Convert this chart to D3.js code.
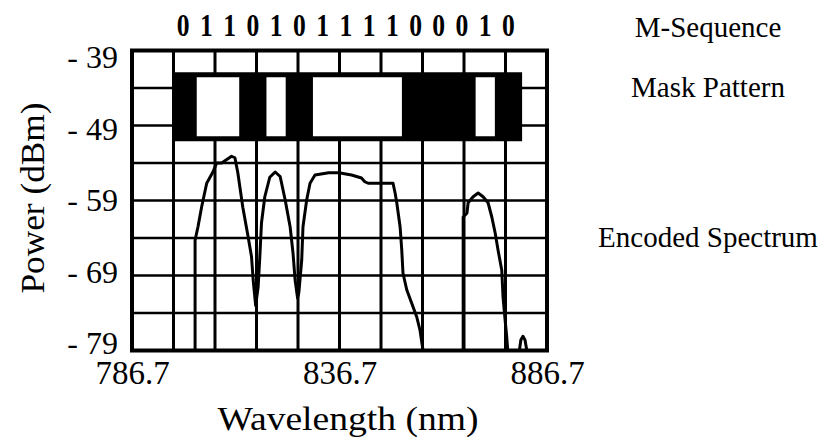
<!DOCTYPE html>
<meta charset="utf-8">
<style>
body{ margin:0; background-color:white; }
</style>
<body>
<svg class="chart"></svg>
<script src="https://cdn.jsdelivr.net/npm/d3@7"></script>
<script>
// m-sequence bits shown above the mask (1 = open slot)
var bits = [0,1,1,0,1,0,1,1,1,1,0,0,0,1,0];

// axis labels
var xTicks = [786.7, 836.7, 886.7];
var yTicks = [-39, -49, -59, -69, -79];

// encoded spectrum trace (nm / dBm)
var wavelength = [801.9, 801.9, 802.6, 803.5, 804.7, 806.2, 807.1, 808.3, 810.7, 811.5, 812.2, 813.4, 814.7, 815.5, 815.9, 816.5,
  817.1, 817.5, 817.9, 818.7, 819.9, 821.2, 822.4, 823.6, 824.8, 825.5, 826.0, 826.6,
  826.9, 827.6, 827.9, 828.8, 829.6, 830.8, 834.1, 836.5, 839.6, 842.0, 842.8, 843.6, 844.8, 849.6, 850.1, 850.5,
  851.3, 851.7, 852.0, 852.9, 854.1, 855.3, 856.1, 856.8, 857.5,
  866.3, 866.5, 866.5, 867.4, 867.7, 868.9, 870.1, 871.3, 872.5, 873.4, 874.2, 874.9, 875.8, 876.1, 876.6, 877.0, 877.3, 877.6,
  880.0, 880.4, 880.9, 881.4, 881.9];
var power = [-82, -64.3, -62.5, -59.8, -56.7, -55.2, -54.0, -54.0, -53.1, -53.3, -55.3, -59.9, -63.9, -66.5, -69.6, -73.0,
  -70.5, -66.5, -62.0, -58.5, -55.9, -55.2, -55.8, -58.9, -62.5, -66.0, -69.6, -72.0,
  -71.3, -66.9, -62.5, -58.9, -56.7, -55.6, -55.3, -55.3, -55.6, -56.0, -56.5, -56.7, -56.7, -56.7, -58.0, -59.3,
  -62.5, -65.6, -68.7, -70.9, -72.7, -74.5, -76.3, -78.9, -82,
  -82, -79.3, -61.2, -60.7, -59.3, -58.5, -58.0, -58.5, -59.3, -61.2, -63.3, -65.6, -68.3, -71.8, -74.9, -77.2, -79.5, -82,
  -79.2, -77.6, -77.1, -77.6, -79.2];

var labels = ["M-Sequence", "Mask Pattern", "Encoded Spectrum"];
</script>

<script>
var w = 830, h = 444;
var plotL = 132, plotR = 547, plotT = 50.5, plotB = 350.5;
var serif = '"Liberation Serif", "Times New Roman", serif';

var svg = d3.select('svg').attr('width', w).attr('height', h).attr('font-family', serif);
svg.append('rect').attr('width', w).attr('height', h).attr('fill', 'white');

var x = d3.scaleLinear().domain([786.7, 886.7]).range([plotL, plotR]);
var y = d3.scaleLinear().domain([-39, -79]).range([plotT, plotB]);
// the printed y labels sit a little inside the end lines
var yLab = d3.scaleLinear().domain([-39, -79]).range([57, 343]);

// mask spans 15 slots from 796.7 nm
var maskStart = 796.7, maskEnd = 880.7;
var slot = d3.scaleBand().domain(d3.range(bits.length)).range([x(maskStart), x(maskEnd)]);

// grid: 10 nm by 5 dB
var gridX = d3.range(1, 10).map(function (i) { return 786.7 + 10 * i; });
var gridY = d3.range(1, 8).map(function (i) { return -39 - 5 * i; });

svg.append('g').selectAll('line')
  .data(gridX).enter().append('line')
  .attr('x1', function (d) { return x(d); }).attr('x2', function (d) { return x(d); })
  .attr('y1', plotT).attr('y2', plotB)
  .attr('stroke', 'black').attr('stroke-width', 3);

svg.append('g').selectAll('line')
  .data(gridY).enter().append('line')
  .attr('x1', plotL).attr('x2', plotR)
  .attr('y1', function (d) { return y(d); }).attr('y2', function (d) { return y(d); })
  .attr('stroke', 'black').attr('stroke-width', 2.6);

// mask pattern: black bar with open runs of 1s
var maskTop = -41.9, maskBot = -51.1;
svg.append('rect')
  .attr('x', x(maskStart) - 1.5).attr('width', x(maskEnd) - x(maskStart) + 1.5)
  .attr('y', y(maskTop)).attr('height', y(maskBot) - y(maskTop))
  .attr('fill', 'black');

var runs = [];
bits.forEach(function (b, i) {
  if (b != 1) return;
  if (runs.length && runs[runs.length - 1].end == i - 1) runs[runs.length - 1].end = i;
  else runs.push({start: i, end: i});
});

svg.append('g').selectAll('rect')
  .data(runs).enter().append('rect')
  .attr('x', function (d) { return slot(d.start); })
  .attr('width', function (d) { return slot(d.end) + slot.bandwidth() - slot(d.start) - 4; })
  .attr('y', y(maskTop) + 5)
  .attr('height', y(maskBot) - y(maskTop) - 10)
  .attr('fill', 'white');

// spectrum
svg.append('clipPath').attr('id', 'plot')
  .append('rect').attr('x', plotL).attr('y', plotT).attr('width', plotR - plotL).attr('height', plotB - plotT);

var line = d3.line()
  .x(function (d) { return x(d[0]); })
  .y(function (d) { return y(d[1]); });

svg.append('path')
  .datum(d3.zip(wavelength, power))
  .attr('clip-path', 'url(#plot)')
  .attr('d', line)
  .attr('fill', 'none').attr('stroke', 'black').attr('stroke-width', 3)
  .attr('stroke-linejoin', 'round');

// frame
svg.append('rect')
  .attr('x', plotL).attr('y', plotT).attr('width', plotR - plotL).attr('height', plotB - plotT)
  .attr('fill', 'none').attr('stroke', 'black').attr('stroke-width', 4);

// bits above the mask
svg.append('g').selectAll('text')
  .data(bits).enter().append('text')
  .attr('transform', function (d, i) { return 'translate(' + (slot(i) + slot.bandwidth() / 2 - 2) + ',36) scale(0.8,1)'; })
  .attr('text-anchor', 'middle')
  .attr('font-family', serif)
  .attr('font-weight', 'bold')
  .attr('font-size', '32px')
  .text(function (d) { return d; });

// x axis labels
var xAxis = d3.axisBottom(x).tickValues(xTicks).tickSize(0).tickPadding(10)
  .tickFormat(function (d) { return d.toFixed(1); });
var gx = svg.append('g').attr('transform', 'translate(0,' + plotB + ')').call(xAxis);
gx.select('.domain').remove();
gx.attr('font-family', serif);
gx.selectAll('text').attr('font-family', serif).attr('font-size', '33px').attr('fill', 'black');

// y axis labels
svg.append('g').selectAll('text')
  .data(yTicks).enter().append('text')
  .attr('x', 118)
  .attr('y', function (d) { return yLab(d); })
  .attr('dy', '0.35em')
  .attr('text-anchor', 'end')
  .attr('font-family', serif)
  .attr('font-size', '32px')
  .text(function (d) { return '- ' + Math.abs(d); });

svg.append('text')
  .attr('transform', 'translate(44,198) rotate(-90)')
  .attr('text-anchor', 'middle')
  .attr('font-family', serif)
  .attr('font-size', '34px')
  .attr('textLength', 191).attr('lengthAdjust', 'spacingAndGlyphs')
  .text('Power (dBm)');

svg.append('text')
  .attr('x', 348).attr('y', 430)
  .attr('text-anchor', 'middle')
  .attr('font-family', serif)
  .attr('font-size', '34px')
  .attr('textLength', 261).attr('lengthAdjust', 'spacingAndGlyphs')
  .text('Wavelength (nm)');

// right hand captions
var capY = [37, 97, 247];
svg.append('g').selectAll('text')
  .data(labels).enter().append('text')
  .attr('x', 708)
  .attr('y', function (d, i) { return capY[i]; })
  .attr('text-anchor', 'middle')
  .attr('font-family', serif)
  .attr('font-size', '29px')
  .text(function (d) { return d; });
</script>
</body>
